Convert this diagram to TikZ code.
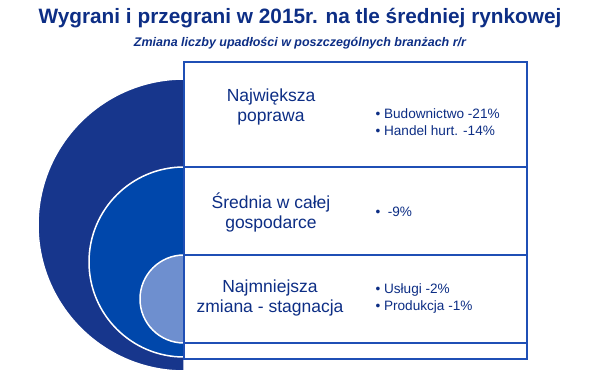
\documentclass[tikz,border=0pt]{standalone}
\usepackage{fontspec}
\setmainfont{Liberation Sans}
\usetikzlibrary{positioning}
\definecolor{navy}{rgb}{0.09, 0.21, 0.55}
\definecolor{royal}{rgb}{0.0, 0.28, 0.67}
\definecolor{pale}{rgb}{0.43, 0.56, 0.81}
\definecolor{frame}{rgb}{0.12, 0.31, 0.71}
\definecolor{ink}{rgb}{0.05, 0.18, 0.52}
\tikzset{
  rowtext/.style={text=ink,font=\fontsize{17.5}{20}\selectfont,align=center},
  bullets/.style={text=ink,font=\fontsize{13.6}{17}\selectfont,align=left,anchor=west},
  ring/.style={draw=white,line width=1.5pt}
}

\begin{document}
\begin{tikzpicture}[x=1pt,y=1pt]
\useasboundingbox (0,0) rectangle (600,389);

\node[text=ink,font=\bfseries\fontsize{20.8}{24}\selectfont] (title) at (300,371)
  {Wygrani i przegrani w 2015r. na tle średniej rynkowej};
\node[text=ink,font=\bfseries\itshape\fontsize{12.5}{14}\selectfont] (subtitle) at (300,346)
  {Zmiana liczby upadłości w poszczególnych branżach r/r};

% half discs
\filldraw[ring,fill=navy] (184,310) arc (90:270:146) -- cycle;
\filldraw[ring,fill=royal] (184,222) arc (90:270:95) -- cycle;
\filldraw[ring,fill=pale] (184,134) arc (90:270:44) -- cycle;

% table
\filldraw[fill=white,draw=frame,line width=1.5pt] (184,30) rectangle (527,327);
\draw[frame,line width=1.2pt] (184,222) -- (527,222);
\draw[frame,line width=1.2pt] (184,134) -- (527,134);
\draw[frame,line width=1.2pt] (184,46) -- (527,46);

\node[rowtext] (best) at (271,282) {Największa\\poprawa};
\node[rowtext] (mean) at (271,177) {Średnia w całej\\gospodarce};
\node[rowtext] (least) at (270,91) {Najmniejsza\\zmiana - stagnacja};

\node[bullets] (bestlist) at (372,267) {• Budownictwo -21\%\\• Handel hurt. -14\%};
\node[bullets] (meanlist) at (372,177) {•\ \ -9\%};
\node[bullets] (leastlist) at (372,91) {• Usługi -2\%\\• Produkcja -1\%};
\end{tikzpicture}
\end{document}
